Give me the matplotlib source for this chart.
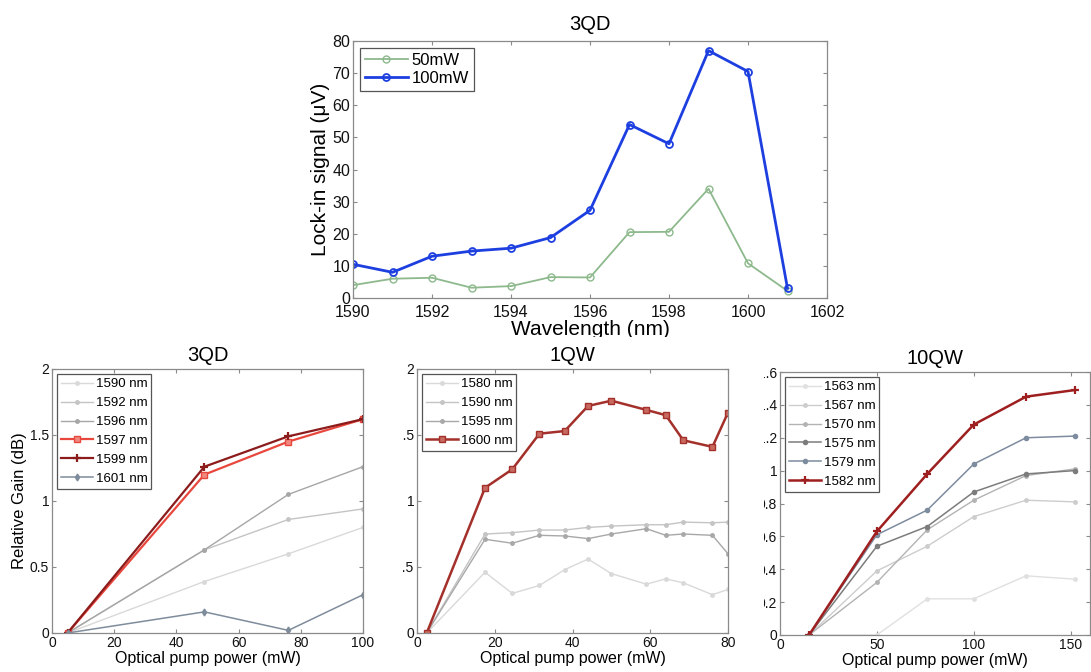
import matplotlib
matplotlib.use("Agg")
import matplotlib.pyplot as plt
from matplotlib.patches import Rectangle

plt.rcParams['font.family'] = ['Liberation Sans', 'DejaVu Sans']
plt.rcParams['xtick.direction'] = 'in'
plt.rcParams['ytick.direction'] = 'in'

# top panel: lock-in signal vs wavelength
wl = [1590, 1591, 1592, 1593, 1594, 1595, 1596, 1597, 1598, 1599, 1600, 1601]
sig_50mw = [4.0, 6.0, 6.3, 3.2, 3.7, 6.5, 6.4, 20.5, 20.6, 34.0, 10.8, 2.2]
sig_100mw = [10.5, 8.0, 13.0, 14.6, 15.5, 18.8, 27.3, 54.0, 48.0, 77.0, 70.5, 3.0]

# bottom left: 3QD
qd_power = [5, 49, 76, 100]
qd_labels = ['1590 nm', '1592 nm', '1596 nm', '1597 nm', '1599 nm', '1601 nm']
qd_gain = [
    [0, 0.39, 0.60, 0.80],
    [0, 0.63, 0.86, 0.94],
    [0, 0.63, 1.05, 1.26],
    [0, 1.20, 1.45, 1.62],
    [0, 1.26, 1.49, 1.62],
    [0, 0.16, 0.02, 0.29],
]

# bottom middle: 1QW
qw1_power = [2.5, 17.5, 24.5, 31.5, 38, 44, 50, 59, 64, 68.5, 76, 80]
qw1_labels = ['1580 nm', '1590 nm', '1595 nm', '1600 nm']
qw1_gain = [
    [0, 0.46, 0.30, 0.36, 0.48, 0.56, 0.45, 0.37, 0.41, 0.38, 0.29, 0.33],
    [0, 0.75, 0.76, 0.78, 0.78, 0.80, 0.81, 0.82, 0.82, 0.84, 0.835, 0.84],
    [0, 0.71, 0.68, 0.74, 0.735, 0.715, 0.75, 0.79, 0.74, 0.75, 0.74, 0.60],
    [0, 1.10, 1.24, 1.51, 1.53, 1.72, 1.76, 1.69, 1.65, 1.46, 1.41, 1.67],
]

# bottom right: 10QW
qw10_power = [15, 50, 76, 100, 127, 152]
qw10_labels = ['1563 nm', '1567 nm', '1570 nm', '1575 nm', '1579 nm', '1582 nm']
qw10_gain = [
    [0, 0.0, 0.22, 0.22, 0.36, 0.34],
    [0, 0.39, 0.54, 0.72, 0.82, 0.81],
    [0, 0.32, 0.64, 0.82, 0.97, 1.01],
    [0, 0.54, 0.66, 0.87, 0.98, 1.00],
    [0, 0.61, 0.76, 1.04, 1.20, 1.21],
    [0, 0.63, 0.98, 1.28, 1.45, 1.49],
]

W, H = 1091, 672
fig = plt.figure(figsize=(W / 100, H / 100), dpi=100)


def px_axes(x0, y0, x1, y1):
    # pixel box (top-left origin) -> figure axes
    return fig.add_axes([x0 / W, 1 - y1 / H, (x1 - x0) / W, (y1 - y0) / H])


def matlab_box(ax, size, xpad=2):
    for s in ax.spines.values():
        s.set_color('#8a8a8a')
        s.set_linewidth(0.9)
    ax.tick_params(top=True, right=True, length=3, width=0.8, color='#8a8a8a',
                   labelsize=size, labelcolor='#111111', pad=2)
    ax.tick_params(axis='x', pad=xpad)


def legend(ax, size, handlelength, spacing):
    leg = ax.legend(loc='upper left', fontsize=size, fancybox=False, framealpha=1,
                    edgecolor='#555555', handlelength=handlelength, handletextpad=0.2,
                    labelspacing=spacing, borderpad=0.3, borderaxespad=0.4)
    leg.get_frame().set_linewidth(0.9)


# ---- top
ax = px_axes(353, 41, 827, 298)
ax.plot(wl, sig_50mw, '-o', color='#8db98d', lw=1.3, ms=5, mfc='none', mew=1.0, label='50mW')
ax.plot(wl, sig_100mw, '-o', color='#1d3fe0', lw=2.0, ms=5, mfc='none', mew=1.3, label='100mW')
ax.set_xlim(1590, 1602)
ax.set_ylim(0, 80)
ax.set_xticks(range(1590, 1603, 2))
ax.set_yticks(range(0, 81, 10))
matlab_box(ax, 11.5, xpad=5)
ax.set_title('3QD', fontsize=14.5, pad=8)
ax.set_xlabel('Wavelength (nm)', fontsize=15, labelpad=0)
ax.set_ylabel('Lock-in signal (\u03bcV)', fontsize=15, labelpad=2)
legend(ax, 12, 2.6, 0.2)

# ---- bottom left 3QD
ax = px_axes(52, 369, 363, 633)
qd_style = [
    dict(color='#d9d9d9', marker='.', lw=1.0, ms=5),
    dict(color='#c4c4c4', marker='.', lw=1.0, ms=5),
    dict(color='#a6a6a6', marker='.', lw=1.0, ms=5),
    dict(color='#e8473d', marker='s', lw=1.6, ms=4.5, mfc='#f08a80'),
    dict(color='#8c1c1c', marker='+', lw=1.6, ms=6, mew=1.6),
    dict(color='#7f8c9c', marker='d', lw=1.1, ms=3.5),
]
for lab, g, st in zip(qd_labels, qd_gain, qd_style):
    ax.plot(qd_power, g, label=lab, **st)
ax.set_xlim(0, 100)
ax.set_ylim(0, 2)
ax.set_xticks(range(0, 101, 20))
ax.set_yticks([0, 0.5, 1, 1.5, 2])
ax.set_yticklabels(['0', '0.5', '1', '1.5', '2'])
matlab_box(ax, 10)
ax.set_title('3QD', fontsize=14.5, pad=6)
ax.set_xlabel('Optical pump power (mW)', fontsize=11.5, labelpad=1)
ax.set_ylabel('Relative Gain (dB)', fontsize=12, labelpad=2)
legend(ax, 9.5, 2.4, 0.5)

# ---- bottom middle 1QW
ax = px_axes(417, 369, 728, 633)
qw1_style = [
    dict(color='#d9d9d9', marker='.', lw=1.0, ms=5),
    dict(color='#c4c4c4', marker='.', lw=1.0, ms=5),
    dict(color='#a8a8a8', marker='.', lw=1.0, ms=5),
    dict(color='#a3302a', marker='s', lw=1.8, ms=4.5, mfc='#c86a60'),
]
for lab, g, st in zip(qw1_labels, qw1_gain, qw1_style):
    ax.plot(qw1_power, g, label=lab, **st)
ax.set_xlim(0, 80)
ax.set_ylim(0, 2)
ax.set_xticks(range(0, 81, 20))
ax.set_yticks([0, 0.5, 1, 1.5, 2])
ax.set_yticklabels(['0', '0.5', '1', '1.5', '2'])
matlab_box(ax, 10)
ax.set_title('1QW', fontsize=14.5, pad=6)
ax.set_xlabel('Optical pump power (mW)', fontsize=11.5, labelpad=1)
legend(ax, 9.5, 2.4, 0.5)

# ---- bottom right 10QW
ax = px_axes(780, 372, 1090, 635)
qw10_style = [
    dict(color='#e0e0e0', marker='.', lw=1.0, ms=5),
    dict(color='#cdcdcd', marker='.', lw=1.0, ms=5),
    dict(color='#b3b3b3', marker='.', lw=1.0, ms=5),
    dict(color='#7c7c7c', marker='.', lw=1.1, ms=6),
    dict(color='#7d8c9e', marker='.', lw=1.1, ms=6),
    dict(color='#9e1f1f', marker='+', lw=1.8, ms=6, mew=1.6),
]
for lab, g, st in zip(qw10_labels, qw10_gain, qw10_style):
    ax.plot(qw10_power, g, label=lab, **st)
ax.set_xlim(0, 160)
ax.set_ylim(0, 1.6)
ax.set_xticks([0, 50, 100, 150])
ax.set_yticks([0, 0.2, 0.4, 0.6, 0.8, 1, 1.2, 1.4, 1.6])
ax.set_yticklabels(['0', '0.2', '0.4', '0.6', '0.8', '1', '1.2', '1.4', '1.6'])
matlab_box(ax, 10)
ax.set_title('10QW', fontsize=14.5, pad=6)
ax.set_xlabel('Optical pump power (mW)', fontsize=11.5, labelpad=1)
legend(ax, 9.5, 2.4, 0.5)

# white strips where the original panels were cropped against each other
for (x0, y0, x1, y1) in [(380, 355, 403, 640), (738, 355, 764, 640), (300, 337, 840, 341)]:
    fig.add_artist(Rectangle((x0 / W, 1 - y1 / H), (x1 - x0) / W, (y1 - y0) / H,
                             transform=fig.transFigure, facecolor='white',
                             edgecolor='none', zorder=5))

fig.savefig('out.png', dpi=100)
